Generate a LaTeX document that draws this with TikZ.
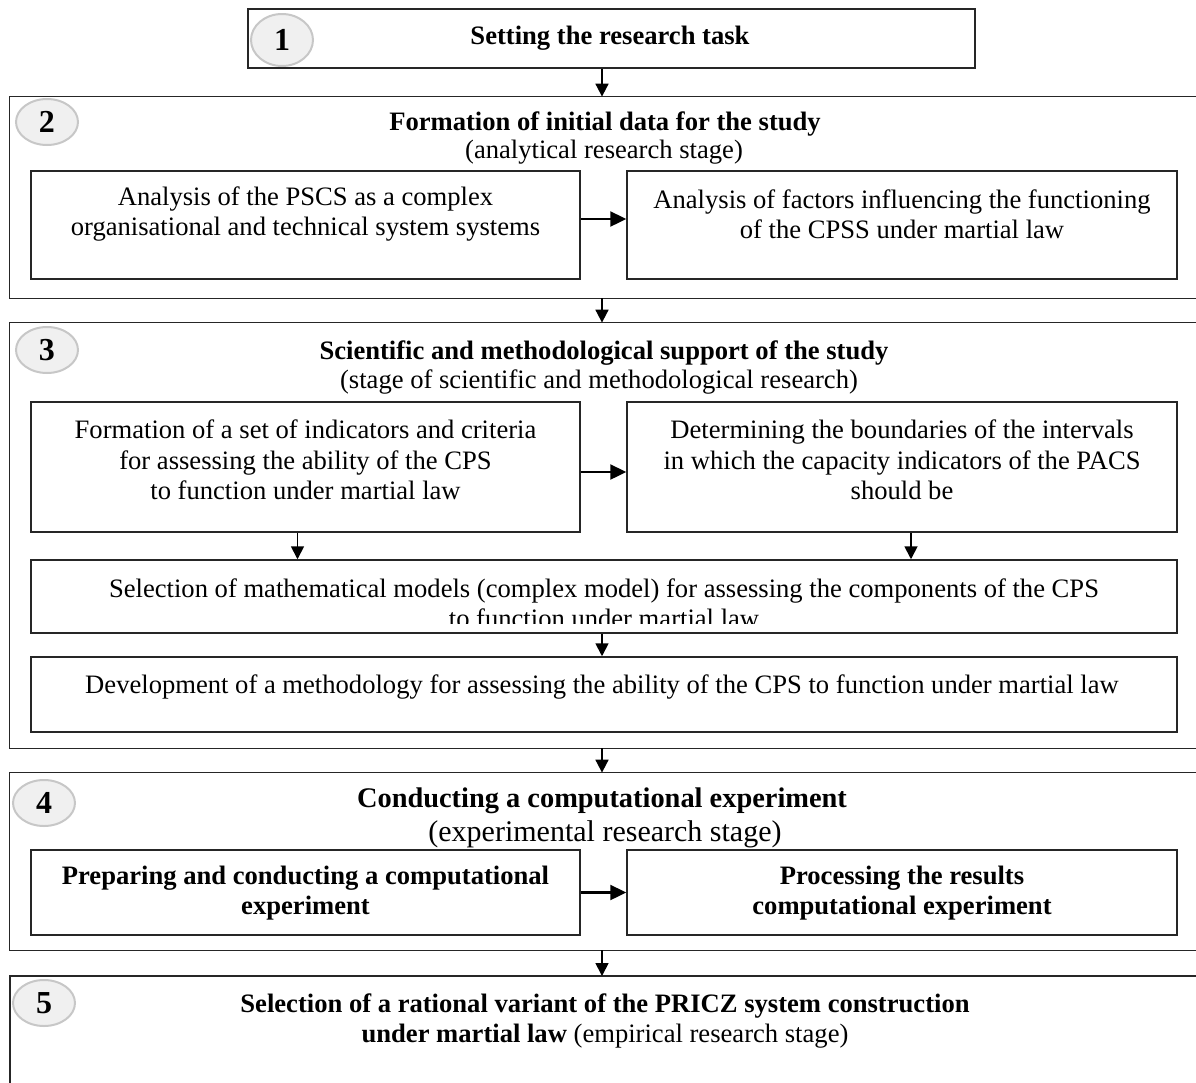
\documentclass[tikz,border=0pt]{standalone}
\usepackage{fontspec}
\setmainfont{Liberation Serif}
\usetikzlibrary{arrows.meta,fit,calc,shapes.geometric}
\begin{document}
\begin{tikzpicture}[x=0.5pt,y=-0.5pt,
  frame/.style={draw=none,inner sep=0pt},
  frm/.style={draw=black!85,line width=0.75pt},
  box/.style={draw=black!85,line width=0.75pt,inner sep=0pt},
  txt/.style={align=center,inner sep=0pt,font=\fontsize{13.3}{15.2}\selectfont},
  ttl/.style={align=center,inner sep=0pt,font=\fontsize{13.3}{15.2}\selectfont\bfseries},
  num/.style={ellipse,draw=black!22,fill=black!6,line width=1pt,inner sep=0pt,
    minimum width=31pt,minimum height=23pt,font=\fontsize{16}{16}\selectfont\bfseries},
  varrow/.style={line width=0.9pt,-{Triangle[length=6.5pt,width=6.5pt]}},
  harrow/.style={line width=1.2pt,-{Triangle[length=8pt,width=7.5pt]}}]
\useasboundingbox (0,0) rectangle (1196,1083);
\coordinate (ax) at (602,0);

% stage 1
\node[box,fit={(248,9) (975,68)}] (s1) {};
\node[num,minimum height=26pt] (n1) at (282,40) {1};
\node[ttl] (t1) at (610,38) {Setting the research task};

% stage 2
\node[frame,fit={(10,97) (1196,298)}] (s2) {};
\draw[frm] (s2.north east) -- (s2.north west) -- (s2.south west) -- (s2.south east);
\node[num] (n2) at (47,122) {2};
\node[ttl] (t2) at (605,124) {Formation of initial data for the study};
\node[txt] (t2s) at (604,152) {(analytical research stage)};
\node[box,fit={(31,171) (580,279)}] (b2a) {};
\node[box,fit={(627,171) (1177,279)}] (b2b) {};
\node[txt] (t2a) at (305.5,214) {Analysis of the PSCS as a complex\\organisational and technical system systems};
\node[txt] (t2b) at (902,214) {Analysis of factors influencing the functioning\\of the CPSS under martial law};
\draw[harrow] ($(b2a.east)+(0,-6)$) -- ($(b2b.west)+(0,-6)$);

% stage 3
\node[frame,fit={(10,323) (1196,748)}] (s3) {};
\draw[frm] (s3.north east) -- (s3.north west) -- (s3.south west) -- (s3.south east);
\node[num] (n3) at (47,350) {3};
\node[ttl] (t3) at (604,353) {Scientific and methodological support of the study};
\node[txt] (t3s) at (599,382) {(stage of scientific and methodological research)};
\node[box,fit={(31,402) (580,532)}] (b3a) {};
\node[box,fit={(627,402) (1177,532)}] (b3b) {};
\node[txt] (t3a) at (305.5,460) {Formation of a set of indicators and criteria\\for assessing the ability of the CPS\\to function under martial law};
\node[txt] (t3b) at (902,460) {Determining the boundaries of the intervals\\in which the capacity indicators of the PACS\\should be};
\draw[harrow] ($(b3a.east)+(0,5)$) -- ($(b3b.west)+(0,5)$);
\node[box,fit={(31,560) (1177,633)}] (b3c) {};
\begin{scope}
  \clip (b3c.north west) rectangle ($(b3c.south east)+(0,-10)$);
  \node[txt] (t3c) at (604,603) {Selection of mathematical models (complex model) for assessing the components of the CPS\\to function under martial law};
\end{scope}
\node[box,fit={(31,657) (1177,732)}] (b3d) {};
\node[txt] (t3d) at (602,687) {Development of a methodology for assessing the ability of the CPS to function under martial law};
\draw[varrow] ([xshift=-4pt]b3a.south) -- ([xshift=-4pt]b3a.south |- b3c.north);
\draw[varrow] ([xshift=4.5pt]b3b.south) -- ([xshift=4.5pt]b3b.south |- b3c.north);
\draw[varrow] (b3c.south -| ax) -- (b3d.north -| ax);

% stage 4
\node[frame,fit={(10,773) (1196,950)}] (s4) {};
\draw[frm] (s4.north east) -- (s4.north west) -- (s4.south west) -- (s4.south east);
\node[num] (n4) at (44,803) {4};
\node[align=center,inner sep=0pt,font=\fontsize{14.2}{16}\selectfont\bfseries] (t4) at (602,801) {Conducting a computational experiment};
\node[align=center,inner sep=0pt,font=\fontsize{15}{16}\selectfont] (t4s) at (605,834) {(experimental research stage)};
\node[box,fit={(31,850) (580,935)}] (b4a) {};
\node[box,fit={(627,850) (1177,935)}] (b4b) {};
\node[ttl] (t4a) at (305.5,893) {Preparing and conducting a computational\\experiment};
\node[ttl] (t4b) at (902,893) {Processing the results\\computational experiment};
\draw[harrow] (b4a.east) -- (b4b.west);

% stage 5
\coordinate (s5ne) at (1196,976);
\coordinate (s5nw) at (10,976);
\coordinate (s5sw) at (10,1083);
\draw[frm] (s5ne) -- (s5nw) -- (s5sw);
\node[num] (n5) at (44,1003) {5};
\node[txt] (t5) at (605,1021) {\bfseries Selection of a rational variant of the PRICZ system construction\\\textbf{under martial law} (empirical research stage)};

% stage connectors
\draw[varrow] (s1.south -| ax) -- (s2.north -| ax);
\draw[varrow] (s2.south -| ax) -- (s3.north -| ax);
\draw[varrow] (s3.south -| ax) -- (s4.north -| ax);
\draw[varrow] (s4.south -| ax) -- (s5nw -| ax);
\end{tikzpicture}
\end{document}
